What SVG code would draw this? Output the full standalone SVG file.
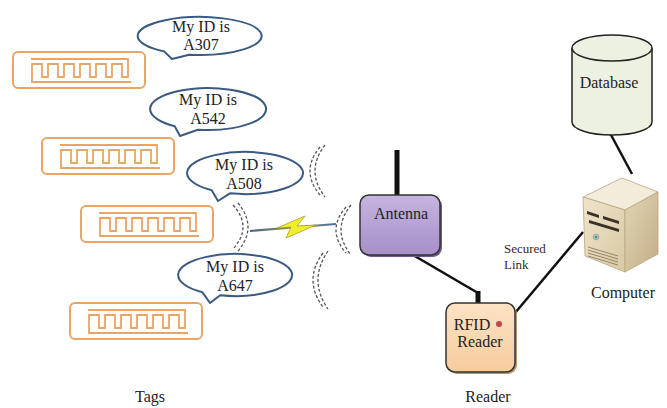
<svg xmlns="http://www.w3.org/2000/svg" xmlns:xlink="http://www.w3.org/1999/xlink" width="667" height="408" viewBox="0 0 667 408" font-family="'Liberation Serif', 'DejaVu Serif', serif">
  <style>
    text { font-family: 'Liberation Serif', 'DejaVu Serif', serif; fill: #222; }
    .lbl { font-size: 16px; text-anchor: middle; }
    .small { font-size: 13px; fill: #3a2a22; }
    .tag-outer { fill: #fff; stroke: #E9A566; stroke-width: 2; }
    .tag-coil { fill: none; stroke: #E9A566; stroke-width: 1.8; }
    .bubble { fill: #fff; stroke: #3B5A80; stroke-width: 2; stroke-linejoin: round; }
    .wave { fill: none; stroke: #555; stroke-width: 1.3; stroke-dasharray: 3 2; }
    .wire { fill: none; stroke: #111; stroke-width: 2.5; }
    .mast { stroke: #111; stroke-width: 5; }
  </style>
  <defs>
    <linearGradient id="purpleGrad" x1="0" y1="0" x2="0" y2="1">
      <stop offset="0" stop-color="#C6B4E0"/>
      <stop offset="1" stop-color="#A690C8"/>
    </linearGradient>
    <linearGradient id="peachGrad" x1="0" y1="0" x2="0" y2="1">
      <stop offset="0" stop-color="#FDE3C4"/>
      <stop offset="1" stop-color="#F6CC9E"/>
    </linearGradient>
    <linearGradient id="frontGrad" x1="0" y1="0" x2="1" y2="1">
      <stop offset="0" stop-color="#EFE5CC"/>
      <stop offset="1" stop-color="#D9C8A2"/>
    </linearGradient>
    <linearGradient id="sideGrad" x1="0" y1="0" x2="1" y2="1">
      <stop offset="0" stop-color="#E2D5B6"/>
      <stop offset="1" stop-color="#C2AE84"/>
    </linearGradient>
    <linearGradient id="linkGrad" x1="0" y1="0" x2="1" y2="0">
      <stop offset="0" stop-color="#4C5F88"/>
      <stop offset="0.5" stop-color="#8A9A50"/>
      <stop offset="1" stop-color="#4C6EA8"/>
    </linearGradient>
    <!-- RFID tag: rounded frame with meander coil -->
    <g id="tag">
      <rect class="tag-outer" x="0" y="0" width="132" height="36" rx="5"/>
      <path class="tag-coil" d="M118,30 H19 V12 H29 V25 H35 V12 H45 V25 H51 V12 H61 V25 H67 V12 H77 V25 H83 V12 H93 V25 H99 V12 H109 V25 H115 V7 H18"/>
    </g>
  </defs>

  <!-- tags -->
  <g id="tag1" transform="translate(13,52)"><use xlink:href="#tag"/></g>
  <g id="tag2" transform="translate(42,138)"><use xlink:href="#tag"/></g>
  <g id="tag3" transform="translate(81,206)"><use xlink:href="#tag"/></g>
  <g id="tag4" transform="translate(70,303)"><use xlink:href="#tag"/></g>

  <!-- speech bubbles -->
  <g id="bubble1">
    <path class="bubble" d="M189.2,54.7 A62,19 0 1 0 164.4,51.6 L172,59 Z"/>
    <text class="lbl" x="201" y="32">My ID is</text>
    <text class="lbl" x="201" y="50">A307</text>
  </g>
  <g id="bubble2">
    <path class="bubble" d="M197.9,129.7 A58,21 0 1 0 174.7,126.2 L180,136 Z"/>
    <text class="lbl" x="208" y="105">My ID is</text>
    <text class="lbl" x="208" y="124">A542</text>
  </g>
  <g id="bubble3">
    <path class="bubble" d="M230,193.3 A58,21 0 1 0 211.7,190.2 L218,201 Z"/>
    <text class="lbl" x="244" y="170">My ID is</text>
    <text class="lbl" x="244" y="189">A508</text>
  </g>
  <g id="bubble4">
    <path class="bubble" d="M220.2,295.3 A57,21 0 1 0 202.3,292.2 L210,303 Z"/>
    <text class="lbl" x="235" y="272">My ID is</text>
    <text class="lbl" x="235" y="291">A647</text>
  </g>

  <!-- radio waves -->
  <g id="waves">
    <path class="wave" d="M233,205 Q253,227 233,249"/>
    <path class="wave" d="M238,203 Q258,227 238,251"/>
    <path class="wave" d="M320,147 Q300,171 320,195"/>
    <path class="wave" d="M325,145 Q305,171 325,197"/>
    <path class="wave" d="M346,207 Q326,230 346,253"/>
    <path class="wave" d="M351,205 Q331,230 351,255"/>
    <path class="wave" d="M323,253 Q303,280 323,307"/>
    <path class="wave" d="M328,251 Q308,280 328,309"/>
  </g>

  <!-- connectors -->
  <g id="connectors">
    <line x1="250" y1="231" x2="336" y2="224" stroke="url(#linkGrad)" stroke-width="2.2"/>
    <polygon points="277,228 305,216 297,226 316,225 286,238 291,227" fill="#F2EE2E" stroke="#A9A220" stroke-width="0.8" stroke-linejoin="round"/>
    <line class="mast" x1="397" y1="150" x2="397" y2="196"/>
    <path class="wire" d="M413,255 L478,293"/>
    <line class="mast" x1="478" y1="291" x2="478" y2="304"/>
    <path class="wire" d="M515,313 L583,232" stroke-width="2"/>
    <path class="wire" d="M610,133 L632,174" stroke-width="2"/>
  </g>

  <!-- antenna -->
  <g id="antenna">
    <rect x="362" y="197" width="80" height="60" rx="9" fill="#6E5A8E"/>
    <rect x="360" y="195" width="80" height="60" rx="9" fill="url(#purpleGrad)" stroke="#333" stroke-width="1.5"/>
    <text class="lbl" x="401" y="219">Antenna</text>
  </g>

  <!-- RFID reader -->
  <g id="reader">
    <rect x="448" y="305" width="69" height="69" rx="9" fill="#B89870"/>
    <rect x="446" y="303" width="69" height="69" rx="9" fill="url(#peachGrad)" stroke="#333" stroke-width="1.5"/>
    <text class="lbl" x="472" y="330">RFID</text>
    <circle cx="499" cy="324" r="3" fill="#C04848"/>
    <text class="lbl" x="480" y="347">Reader</text>
  </g>

  <!-- database -->
  <g id="database">
    <path d="M572,48 V122 A40,13 0 0 0 652,122 V48" fill="#EDF1E2" stroke="#222" stroke-width="1.5"/>
    <ellipse cx="612" cy="48" rx="40" ry="13" fill="#EDF1E2" stroke="#222" stroke-width="1.5"/>
    <text class="lbl" x="609" y="88">Database</text>
  </g>

  <!-- computer tower -->
  <g id="computer">
    <polygon points="583,197 622,178 658,192 625,210" fill="#F3ECDA" stroke="#B8A680" stroke-width="0.8"/>
    <polygon points="583,197 625,210 625,272 585,256" fill="url(#frontGrad)" stroke="#B8A680" stroke-width="0.8"/>
    <polygon points="625,210 658,192 658,254 625,272" fill="url(#sideGrad)" stroke="#B8A680" stroke-width="0.8"/>
    <polygon points="587,211 599,215 599,218 587,214" fill="#3A3228"/>
    <polygon points="603,216 619,221 619,224 603,219" fill="#3A3228"/>
    <polygon points="589,220 619,229 619,232 589,223" fill="#3A3228"/>
    <circle cx="596" cy="237" r="2.8" fill="#CFE0D8" stroke="#6A7A70" stroke-width="0.6"/>
    <circle cx="596" cy="237" r="1.5" fill="#3F8F8A"/>
    <g stroke="#8C7C60" stroke-width="0.9">
      <line x1="588" y1="247" x2="618" y2="256"/>
      <line x1="588" y1="250" x2="618" y2="259"/>
      <line x1="588" y1="253" x2="618" y2="262"/>
      <line x1="588" y1="256" x2="618" y2="265"/>
    </g>
  </g>

  <!-- captions -->
  <text class="small" x="504" y="253">Secured</text>
  <text class="small" x="504" y="269">Link</text>
  <text class="lbl" x="623" y="298">Computer</text>
  <text class="lbl" x="150" y="402">Tags</text>
  <text class="lbl" x="488" y="402">Reader</text>
</svg>
